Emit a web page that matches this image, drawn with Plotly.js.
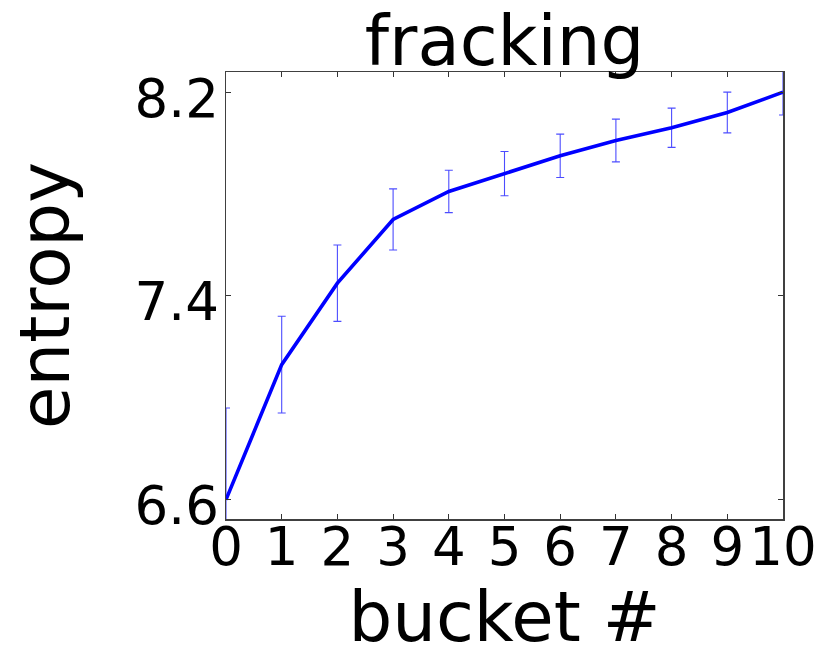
<!DOCTYPE html>
<html>
<head>
<meta charset="utf-8">
<script src="https://cdn.plot.ly/plotly-3.0.1.min.js"></script>
<style>
  body { margin: 0; padding: 0; background: #fff; }
  #plot { width: 830px; height: 664px; }
</style>
</head>
<body>
<div id="plot"></div>
<script>
// buckets and mean entropy per bucket
let buckets = [0, 1, 2, 3, 4, 5, 6, 7, 8, 9, 10];
let entropy = [6.60, 7.13, 7.45, 7.70, 7.81, 7.88, 7.95, 8.01, 8.06, 8.12, 8.20];

// error bar half-heights
let entropyErr = [0.36, 0.19, 0.15, 0.12, 0.083, 0.087, 0.085, 0.084, 0.077, 0.08, 0.09];

// tick labels
let yTickVals = [6.6, 7.4, 8.2];
let yTickText = ["6.6", "7.4", "8.2"];

let trace1 = {
    x: buckets,
    y: entropy,
    type: "scatter",
    mode: "lines",
    cliponaxis: true,
    line: { color: "#0000ff", width: 3.6 },
    error_y: {
        type: "data",
        array: entropyErr,
        visible: true,
        color: "rgba(0,0,255,0.7)",
        thickness: 1.1,
        width: 4
    },
    showlegend: false
};

let data = [trace1];

let axisStyle = {
    showgrid: false,
    zeroline: false,
    showline: true,
    linecolor: "#404040",
    linewidth: 1.5,
    mirror: "ticks",
    ticks: "inside",
    ticklen: 5,
    tickwidth: 1,
    tickcolor: "#333",
    tickfont: { family: "DejaVu Sans", size: 53, color: "#000" }
};

let layout = {
    width: 830,
    height: 664,
    margin: { l: 226, r: 47, t: 72, b: 145, pad: 0 },
    paper_bgcolor: "#fff",
    plot_bgcolor: "#fff",
    font: { family: "DejaVu Sans", color: "#000" },
    title: {
        text: "fracking",
        font: { family: "DejaVu Sans", size: 69, color: "#000" },
        x: 0.5,
        xanchor: "center",
        xref: "paper",
        y: 0.902,
        yref: "container",
        yanchor: "bottom"
    },
    xaxis: Object.assign({}, axisStyle, {
        range: [0, 10],
        tickvals: buckets,
        ticktext: buckets.map(String),
        ticklabelstandoff: -19,
        title: { text: "bucket #", font: { family: "DejaVu Sans", size: 69, color: "#000" }, standoff: 13 }
    }),
    yaxis: Object.assign({}, axisStyle, {
        range: [6.524, 8.279],
        tickvals: yTickVals,
        ticktext: yTickText,
        ticklabelstandoff: -5,
        ticklabelshift: 6,
        title: { text: "entropy", font: { family: "DejaVu Sans", size: 69, color: "#000" }, standoff: 42 }
    })
};

Plotly.newPlot("plot", data, layout, { displayModeBar: false, staticPlot: true });
</script>
</body>
</html>
